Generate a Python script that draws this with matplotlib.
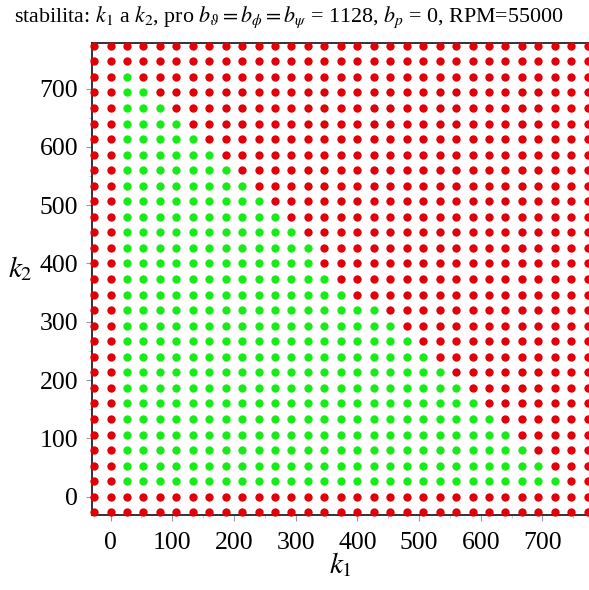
import matplotlib
matplotlib.use('Agg')
from matplotlib import pyplot as plt
from matplotlib.ticker import MultipleLocator

# grid of tested gains (same for k1 and k2)
k_values = [-26.7, 0, 26.7, 53.3, 80, 106.7, 133.3, 160, 186.7, 213.3, 240,
            266.7, 293.3, 320, 346.7, 373.3, 400, 426.7, 453.3, 480, 506.7,
            533.3, 560, 586.7, 613.3, 640, 666.7, 693.3, 720, 746.7, 773.3]

# largest stable k1 for each k2 row (None = no stable point in that row)
max_stable_k1 = [None, None, 720, 693.3, 666.7, 640, 613.3, 586.7, 560, 533.3,
                 506.7, 480, 453.3, 426.7, 373.3, 346.7, 320, 320, 293.3, 266.7,
                 240, 213.3, 186.7, 160, 133.3, 106.7, 80, 53.3, 26.7, None, None]

plt.rcParams['font.family'] = ['Liberation Serif', 'DejaVu Serif']
plt.rcParams['mathtext.fontset'] = 'stix'

fig = plt.figure(figsize=(5.89, 5.90), dpi=100)
ax = fig.add_axes([0.1562, 0.127, 0.8438, 0.800])

stable_x, stable_y, unstable_x, unstable_y = [], [], [], []
for k2, limit in zip(k_values, max_stable_k1):
    for k1 in k_values:
        if limit is not None and k1 > 0 and k1 <= limit:
            stable_x.append(k1)
            stable_y.append(k2)
        else:
            unstable_x.append(k1)
            unstable_y.append(k2)

ax.scatter(unstable_x, unstable_y, s=36, color='#e1000a', linewidths=0,
           clip_on=False, zorder=3)
ax.scatter(stable_x, stable_y, s=36, color='#18ec18', linewidths=0,
           clip_on=False, zorder=3)

ax.set_xlim(-30, 775.5)
ax.set_ylim(-31.4, 778)

ax.spines['right'].set_visible(False)
for side in ['left', 'top', 'bottom']:
    ax.spines[side].set_linewidth(1.3)
    ax.spines[side].set_color('#222222')

ax.xaxis.set_minor_locator(MultipleLocator(50))
ax.yaxis.set_minor_locator(MultipleLocator(50))
ax.set_xticks(range(0, 701, 100))
ax.set_yticks(range(0, 701, 100))
ax.tick_params(which='major', direction='out', length=4, width=0.8,
               color='#999999', labelsize=18.5, pad=8)
ax.tick_params(which='minor', direction='out', length=2, width=0.6,
               color='#bbbbbb')
ax.tick_params(axis='y', pad=6)

fig.text(0.578, 0.018, r'$k_1$', fontsize=21, ha='center', va='bottom')
fig.text(0.035, 0.545, r'$k_2$', fontsize=21, ha='center', va='center')

fig.text(0.49, 0.963,
         r'stabilita: $k_1$ a $k_2$, pro $b_\vartheta = b_{\phi} = b_{\psi}$ = 1128, $b_p$ = 0, RPM=55000',
         fontsize=15.8, ha='center', va='baseline')

fig.savefig('out.png', dpi=100)
